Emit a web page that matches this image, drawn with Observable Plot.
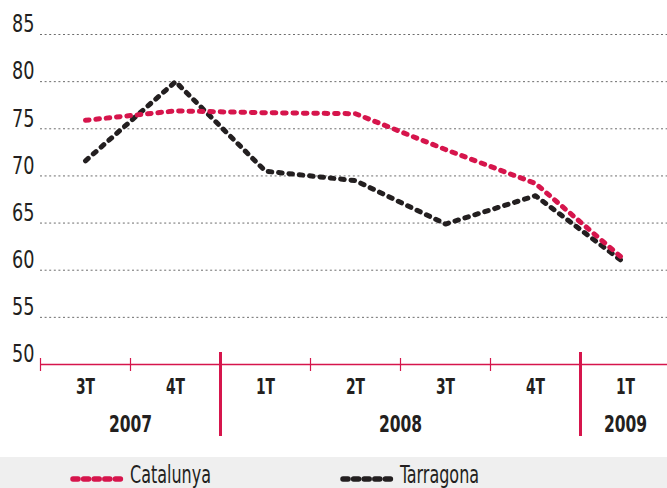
<!DOCTYPE html>
<html>
<head>
<meta charset="utf-8">
<script src="https://cdn.jsdelivr.net/npm/d3@7"></script>
<script src="https://cdn.jsdelivr.net/npm/@observablehq/plot@0.6"></script>
<style>
  html, body { margin: 0; padding: 0; background: #fff; }
  body { width: 667px; height: 488px; overflow: hidden; font-family: "Liberation Sans Narrow", "DejaVu Sans Condensed", "Roboto", sans-serif; }
  #chart svg { display: block; }
  #legend { position: relative; height: 31px; background: #efefef; }
  .item { position: absolute; top: 0; height: 31px; }
  .item svg { position: absolute; left: 0; top: 18px; }
  .item span { position: absolute; left: 60px; top: 6px; font-size: 24px; line-height: 24px; color: #231f20; white-space: nowrap; display: inline-block; transform: scaleX(0.74); transform-origin: left center; }
</style>
</head>
<body>
<div id="chart"></div>
<div id="legend"></div>
<script>
const quarters = ["3T", "4T", "1T", "2T", "3T", "4T", "1T"];
const years = [2007, 2007, 2008, 2008, 2008, 2008, 2009];
const catalunya = [75.9, 76.9, 76.7, 76.6, 72.8, 69.2, 61.0];
const tarragona = [71.6, 80.0, 70.5, 69.5, 64.9, 67.9, 60.7];
const yTicks = [50, 55, 60, 65, 70, 75, 80, 85];
const seriesNames = ["Catalunya", "Tarragona"];
const seriesColors = ["#d6154c", "#231f20"];

const FONT = '"Liberation Sans Narrow", "DejaVu Sans Condensed", "Roboto", sans-serif';

const rows = [];
quarters.forEach((q, i) => rows.push({i, serie: "Tarragona", v: tarragona[i]}));
quarters.forEach((q, i) => rows.push({i, serie: "Catalunya", v: catalunya[i]}));

// band boundaries between quarters
const bounds = d3.range(0, quarters.length + 1).map(k => ({
  x: k - 0.5,
  major: k > 0 && k < quarters.length && years[k - 1] !== years[k]
}));
const yearGroups = d3.groups(quarters.map((q, i) => ({i, y: years[i]})), d => d.y)
  .map(([y, arr]) => ({year: y, x: d3.mean(arr, d => d.i)}));

const red = seriesColors[0];

const chart = Plot.plot({
  width: 667,
  height: 457,
  marginLeft: 40,
  marginRight: 0,
  marginTop: 0,
  marginBottom: 0,
  style: {fontFamily: FONT, background: "transparent"},
  x: {type: "linear", domain: [-0.5, quarters.length - 0.5], range: [40, 670], axis: null},
  y: {domain: [50, 85], range: [364, 34], axis: null},
  color: {domain: seriesNames, range: seriesColors},
  marks: [
    Plot.ruleY(yTicks.filter(d => d > 50), {stroke: "#6d6d6d", strokeWidth: 1, strokeDasharray: "2,2.6"}),
    Plot.text(yTicks, {x: -0.5, y: d => d, text: d => String(d), textAnchor: "end", dx: -6, dy: -10, fontSize: 24.5, fill: "#231f20"}),
    Plot.ruleY([50], {stroke: red, strokeWidth: 1.6}),
    Plot.ruleX(bounds.filter(d => !d.major), {x: "x", y1: 50, y2: 50, insetTop: -6, insetBottom: -7, stroke: red, strokeWidth: 1.2}),
    Plot.ruleX(bounds.filter(d => d.major), {x: "x", y1: 50, y2: 50, insetTop: -12, insetBottom: -72, stroke: red, strokeWidth: 3}),
    Plot.text(quarters, {x: (d, i) => i, y: 50, text: d => d, dy: 23, fontSize: 20.5, fontWeight: "bold", fill: "#231f20"}),
    Plot.text(yearGroups, {x: "x", y: 50, text: d => String(d.year), dy: 60, fontSize: 23, fontWeight: "bold", fill: "#231f20"}),
    Plot.line(rows, {x: "i", y: "v", z: "serie", stroke: "serie", strokeWidth: 5, strokeDasharray: "3.6,6.8", strokeLinecap: "round", strokeLinejoin: "round"})
  ]
});
document.getElementById("chart").appendChild(chart);

// condense the text horizontally to mimic the narrow typeface of the original
d3.select(chart).selectAll("text").each(function () {
  const g = this.closest("g");
  const bold = g && g.getAttribute("font-weight") === "bold";
  const len = this.getComputedTextLength();
  if (len > 0) {
    this.setAttribute("textLength", (len * (bold ? 0.75 : 0.8)).toFixed(2));
    this.setAttribute("lengthAdjust", "spacingAndGlyphs");
  }
});

// legend
const legend = document.getElementById("legend");
const legendX = [70, 340];
seriesNames.forEach((name, k) => {
  const item = document.createElement("div");
  item.className = "item";
  item.style.left = legendX[k] + "px";
  const svg = d3.create("svg").attr("width", 54).attr("height", 8);
  svg.append("line").attr("x1", 3).attr("x2", 51).attr("y1", 4).attr("y2", 4)
    .attr("stroke", seriesColors[k]).attr("stroke-width", 5.5)
    .attr("stroke-linecap", "round").attr("stroke-dasharray", "5,5.6");
  item.appendChild(svg.node());
  const span = document.createElement("span");
  span.textContent = name;
  item.appendChild(span);
  legend.appendChild(item);
});
</script>
</body>
</html>
